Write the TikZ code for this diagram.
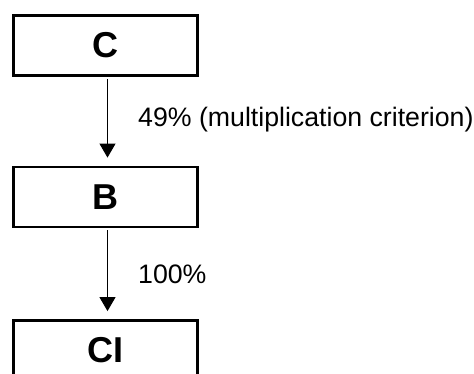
\documentclass[tikz,border=0pt]{standalone}
\usepackage{fontspec}
\setmainfont{Liberation Sans}
\usetikzlibrary{arrows.meta}
\begin{document}
\begin{tikzpicture}[x=1pt,y=1pt,
  box/.style={draw=black,line width=2.8pt,minimum width=184pt,minimum height=60pt,inner sep=0pt,
    font=\fontsize{36}{43}\selectfont\bfseries},
  flow/.style={line width=1pt,-{Triangle[length=14pt,width=16pt]}},
  lbl/.style={anchor=base west,inner sep=0pt,font=\fontsize{26.7}{32}\selectfont}]
\useasboundingbox (0,0) rectangle (474,374);
\clip (0,0) rectangle (474,374);
\node[box] (C) at (105.5,328.5) {C};
\node[box] (B) at (105.5,177) {B};
\node[box] (CI) at (105.5,23.5) {CI};
\draw[flow,shorten <=2pt,shorten >=8pt] ([xshift=2pt]C.south) -- ([xshift=2pt]B.north);
\draw[flow,shorten <=2pt,shorten >=8pt] ([xshift=2pt]B.south) -- ([xshift=2pt]CI.north);
\node[lbl] (l1) at (138,247.3) {49\% (multiplication criterion)};
\node[lbl] (l2) at (138,90) {100\%};
\end{tikzpicture}
\end{document}
